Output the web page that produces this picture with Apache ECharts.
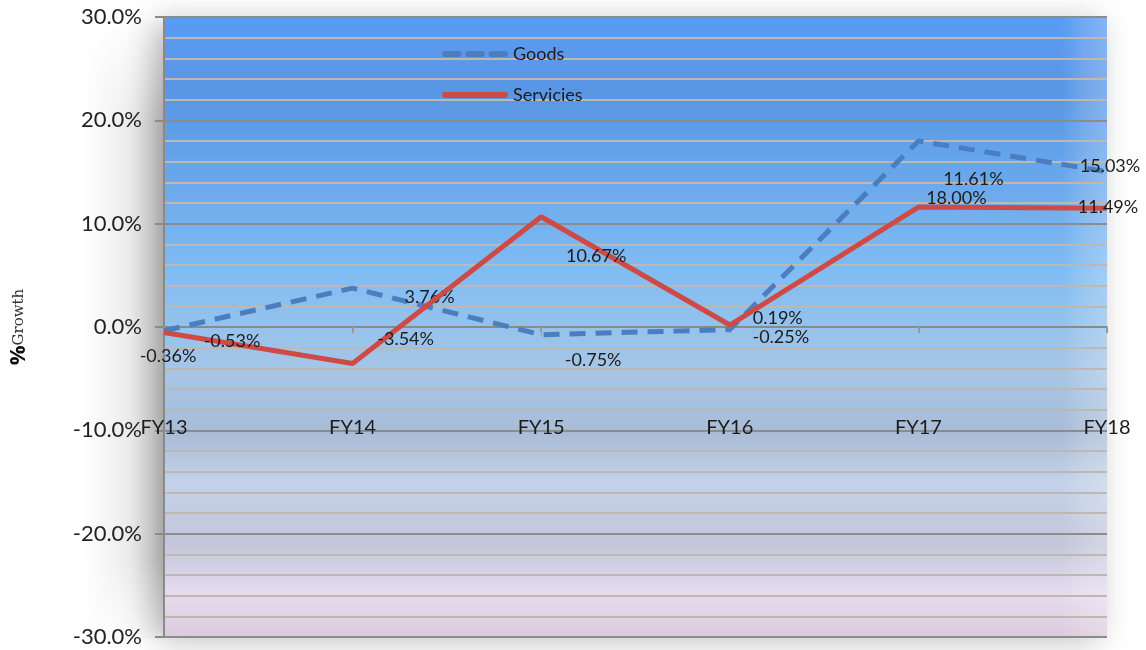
<!DOCTYPE html>
<html>
<head>
<meta charset="utf-8">
<script src="https://cdn.jsdelivr.net/npm/echarts@6/dist/echarts.min.js"></script>
<style>html,body{margin:0;padding:0;background:#fff;}#c{width:1146px;height:650px;}</style>
</head>
<body>
<div id="c"></div>
<script>
const categories = ['FY13', 'FY14', 'FY15', 'FY16', 'FY17', 'FY18'];
const goods = [-0.36, 3.76, -0.75, -0.25, 18.00, 15.03];
const services = [-0.53, -3.54, 10.67, 0.19, 11.61, 11.49];
const goodsLabels = ['-0.36%', '3.76%', '-0.75%', '-0.25%', '18.00%', '15.03%'];
const servicesLabels = ['-0.53%', '-3.54%', '10.67%', '0.19%', '11.61%', '11.49%'];

// label offsets (styling only)
const goodsLabelOffsets = [[4, 25], [77, 9], [52, 25], [51, 8], [38, 57], [3, -6]];
const servicesLabelOffsets = [[68, 9], [53, -24], [55, 39], [48, -7], [55, -28], [1, -1]];

const labelFont = { fontFamily: 'Lato, "Open Sans", sans-serif', fontSize: 18, color: '#1c1c1c' };

function buildData(vals, labels, offs) {
  return vals.map((v, i) => ({
    value: v,
    label: {
      show: true, position: 'inside', offset: offs[i],
      formatter: labels[i], align: 'center', verticalAlign: 'middle', ...labelFont
    }
  }));
}

const dashIcon = 'path://M3,0h14a3,3 0 0 1 0,6h-14a3,3 0 0 1 0,-6z M27,0h14a3,3 0 0 1 0,6h-14a3,3 0 0 1 0,-6z M51,0h14a3,3 0 0 1 0,6h-14a3,3 0 0 1 0,-6z';
const solidIcon = 'path://M3,0h62a3,3 0 0 1 0,6h-62a3,3 0 0 1 0,-6z';

const chart = echarts.init(document.getElementById('c'));
chart.setOption({
  animation: false,
  graphic: [
    {
      type: 'rect', z: -10, silent: true,
      shape: { x: 82, y: 17, width: 82, height: 622 },
      style: {
        fill: { type: 'linear', x: 0, y: 0, x2: 1, y2: 0,
          colorStops: [{ offset: 0, color: 'rgba(0,0,0,0)' }, { offset: 0.6, color: 'rgba(0,0,0,0.08)' }, { offset: 1, color: 'rgba(0,0,0,0.2)' }] }
      }
    },
    {
      type: 'rect', z: -9, silent: true,
      shape: { x: 60, y: 15, width: 104, height: 110 },
      style: {
        fill: { type: 'linear', x: 0, y: 0, x2: 0, y2: 1,
          colorStops: [{ offset: 0, color: 'rgba(255,255,255,1)' }, { offset: 1, color: 'rgba(255,255,255,0)' }] }
      }
    },
    {
      type: 'rect', z: -9, silent: true,
      shape: { x: 60, y: 560, width: 104, height: 82 },
      style: {
        fill: { type: 'linear', x: 0, y: 0, x2: 0, y2: 1,
          colorStops: [{ offset: 0, color: 'rgba(255,255,255,0)' }, { offset: 1, color: 'rgba(255,255,255,0.85)' }] }
      }
    },
    {
      type: 'rect', z: 0, silent: true,
      shape: { x: 1062, y: 18, width: 45, height: 619 },
      style: {
        fill: { type: 'linear', x: 0, y: 0, x2: 1, y2: 0,
          colorStops: [{ offset: 0, color: 'rgba(255,255,255,0)' }, { offset: 0.5, color: 'rgba(255,255,255,0.15)' }, { offset: 1, color: 'rgba(255,255,255,0.25)' }] }
      }
    }
  ],
  grid: {
    left: 164, right: 39, top: 17, bottom: 13, show: true, borderWidth: 0,
    outerBoundsMode: 'none', containLabel: false,
    backgroundColor: {
      type: 'linear', x: 0, y: 0, x2: 0, y2: 1,
      colorStops: [
        { offset: 0, color: '#5a9cf4' },
        { offset: 0.12, color: '#5996e4' },
        { offset: 0.25, color: '#68a6ec' },
        { offset: 0.42, color: '#82bdf2' },
        { offset: 0.57, color: '#a6c6e6' },
        { offset: 0.67, color: '#a9bcd6' },
        { offset: 0.75, color: '#c3d2e8' },
        { offset: 0.85, color: '#c4c6da' },
        { offset: 0.93, color: '#e6dcee' },
        { offset: 1, color: '#dccadc' }
      ]
    },
    shadowBlur: 30, shadowColor: 'rgba(0,0,0,0.25)', shadowOffsetX: -8, shadowOffsetY: 4
  },
  legend: {
    orient: 'vertical', left: 437, top: 40, itemGap: 23,
    itemWidth: 66, itemHeight: 6,
    textStyle: { fontFamily: 'Lato, "Open Sans", sans-serif', fontSize: 18, color: '#1c1c1c' },
    data: [
      { name: 'Goods', icon: dashIcon },
      { name: 'Servicies', icon: solidIcon }
    ]
  },
  xAxis: [
    {
      type: 'category', data: categories, boundaryGap: false,
      axisLine: { onZero: true, lineStyle: { color: '#8a8a8a', width: 2 } },
      axisTick: { show: true, length: 6, lineStyle: { color: '#999', width: 2 } },
      axisLabel: { show: false },
      splitLine: { show: false }
    },
    {
      type: 'category', data: categories, boundaryGap: false, position: 'bottom', offset: -219,
      axisLine: { show: false }, axisTick: { show: false },
      axisLabel: { margin: 0, ...labelFont, fontSize: 20, color: '#1c1c1c' },
      splitLine: { show: false }
    }
  ],
  yAxis: {
    type: 'value', min: -30, max: 30, interval: 10,
    name: '{a|%}{b|Growth}', nameLocation: 'middle', nameRotate: 90, nameGap: 134,
    nameTextStyle: {
      rich: {
        a: { fontFamily: '"Open Sans", sans-serif', fontWeight: 'bold', fontSize: 22, color: '#111' },
        b: { fontFamily: '"DejaVu Serif", "Liberation Serif", serif', fontSize: 15, color: '#333' }
      }
    },
    axisLine: { show: true, lineStyle: { color: '#8a8a8a', width: 2 } },
    axisTick: { show: true, length: 9, lineStyle: { color: '#8a8a8a', width: 2 } },
    axisLabel: {
      margin: 22, fontFamily: 'Lato, "Open Sans", sans-serif', fontSize: 22, color: '#222',
      formatter: v => v.toFixed(1) + '%'
    },
    splitLine: { show: true, lineStyle: { color: '#8c8c8c', width: 2 } },
    minorTick: { show: false, splitNumber: 5 },
    minorSplitLine: { show: true, lineStyle: { color: '#bdb9b2', width: 2 } }
  },
  series: [
    {
      name: 'Goods', type: 'line', data: buildData(goods, goodsLabels, goodsLabelOffsets),
      symbol: 'circle', symbolSize: 1, showSymbol: true,
      itemStyle: { color: '#4a7ebf' },
      lineStyle: { color: '#4a7ebf', width: 5, type: [16, 10] },
      z: 3
    },
    {
      name: 'Servicies', type: 'line', data: buildData(services, servicesLabels, servicesLabelOffsets),
      symbol: 'circle', symbolSize: 1, showSymbol: true,
      itemStyle: { color: '#cf4a45' },
      lineStyle: { color: '#cf4a45', width: 5 },
      z: 4
    }
  ]
});
</script>
</body>
</html>
